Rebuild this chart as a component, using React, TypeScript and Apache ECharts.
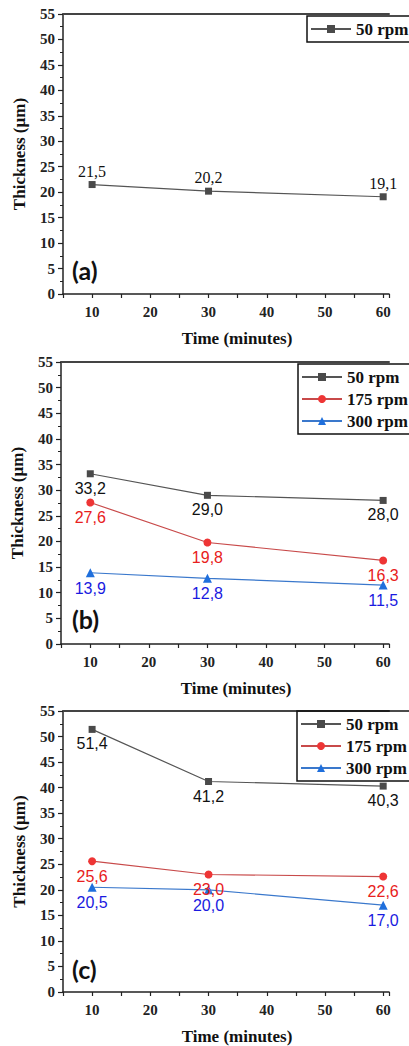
import React, { useEffect, useRef } from "react";
import * as echarts from "echarts";

const times = [10, 30, 60];
const a50 = [21.5, 20.2, 19.1];
const b50 = [33.2, 29.0, 28.0];
const b175 = [27.6, 19.8, 16.3];
const b300 = [13.9, 12.8, 11.5];
const c50 = [51.4, 41.2, 40.3];
const c175 = [25.6, 23.0, 22.6];
const c300 = [20.5, 20.0, 17.0];
const panelNames = ["(a)", "(b)", "(c)"];
const seriesNames = ["50 rpm", "175 rpm", "300 rpm"];

const GRAY = "#4a4a4a";
const RED = "#ee3535";
const BLUE = "#1f6fdc";
const SERIF = "Liberation Serif";
const SANS = "Liberation Sans";

const styles: Record<string, any> = {
  "50 rpm": { line: "#555555", marker: GRAY, label: "#111111", symbol: "rect", size: 7 },
  "175 rpm": { line: "#c84a4a", marker: RED, label: "#e82020", symbol: "circle", size: 8 },
  "300 rpm": { line: "#3a78cc", marker: BLUE, label: "#1a1ae0", symbol: "triangle", size: 9 },
};

const grids = [
  { left: 63, top: 14, height: 280, right: 20 },
  { left: 61, top: 362, height: 282, right: 20 },
  { left: 63, top: 711, height: 283, right: 20 },
];
const legendPos = [
  { left: 307, top: 16 },
  { left: 298, top: 364 },
  { left: 297, top: 711 },
];
const panelLabelY = [272, 621, 971];
const X_MIN = 5;
const X_MAX = 61;

const fmt = (v: number) => v.toFixed(1).replace(".", ",");

function mkSeries(name: string, vals: number[], gi: number, labelPos: string, labelFont: string) {
  const s = styles[name];
  return {
    type: "line",
    name,
    xAxisIndex: gi,
    yAxisIndex: gi,
    data: times.map((t, i) => [t, vals[i]]),
    symbol: s.symbol,
    symbolSize: s.size,
    lineStyle: { color: s.line, width: 1.2 },
    itemStyle: { color: s.marker },
    label: {
      show: true,
      position: labelPos,
      distance: labelPos === "top" ? 2 : 3,
      color: s.label,
      fontFamily: labelFont,
      fontSize: 16,
      formatter: (p: any) => fmt(p.value[1]),
    },
    z: 3,
  };
}

export default function App() {
  const ref = useRef<HTMLDivElement>(null);
  useEffect(() => {
    if (!ref.current) return;
    const chart = echarts.init(ref.current, null, { renderer: "svg" });
    const xAxes: any[] = grids.map((_, gi) => ({
      type: "value",
      gridIndex: gi,
      position: "bottom",
      min: X_MIN,
      max: X_MAX,
      interval: 5,
      name: "Time (minutes)",
      nameLocation: "middle",
      nameGap: 36,
      nameTextStyle: { fontFamily: SERIF, fontSize: 17, fontWeight: "bold", color: "#111", padding: [0, 0, 0, 22] },
      axisLine: { show: true, lineStyle: { color: "#222", width: 1.5 } },
      axisTick: { show: true, inside: false, length: 4, lineStyle: { color: "#222", width: 1.2 } },
      axisLabel: {
        margin: 10,
        fontFamily: SERIF,
        fontSize: 15,
        fontWeight: "bold",
        color: "#222",
        formatter: (v: number) => (v % 10 === 0 ? String(v) : ""),
      },
      splitLine: { show: false },
    }));
    grids.forEach((_, gi) => {
      xAxes.push({
        type: "value",
        gridIndex: gi,
        position: "top",
        min: X_MIN,
        max: X_MAX,
        interval: 5,
        axisLine: { show: true, onZero: false, lineStyle: { color: "#444", width: 2 } },
        axisTick: { show: false },
        axisLabel: { show: false },
        splitLine: { show: false },
      });
    });
    const yAxes = grids.map((_, gi) => ({
      type: "value",
      gridIndex: gi,
      min: 0,
      max: 55,
      interval: 5,
      name: "Thickness (µm)",
      nameLocation: "middle",
      nameGap: 35,
      nameTextStyle: { fontFamily: SERIF, fontSize: 17, fontWeight: "bold", color: "#111" },
      axisLine: { show: true, lineStyle: { color: "#222", width: 1.5 } },
      axisTick: { show: true, inside: false, length: 5, lineStyle: { color: "#222", width: 1.2 } },
      minorTick: { show: true, splitNumber: 2, length: 3, lineStyle: { color: "#222", width: 1 } },
      axisLabel: { margin: 8, fontFamily: SERIF, fontSize: 15, fontWeight: "bold", color: "#222" },
      splitLine: { show: false },
    }));
    const series = [
      mkSeries("50 rpm", a50, 0, "top", SERIF),
      mkSeries("50 rpm", b50, 1, "bottom", SANS),
      mkSeries("175 rpm", b175, 1, "bottom", SANS),
      mkSeries("300 rpm", b300, 1, "bottom", SANS),
      mkSeries("50 rpm", c50, 2, "bottom", SANS),
      mkSeries("175 rpm", c175, 2, "bottom", SANS),
      mkSeries("300 rpm", c300, 2, "bottom", SANS),
    ];
    const legends = legendPos.map((p, gi) => ({
      left: p.left,
      top: p.top,
      orient: "vertical",
      data: gi === 0 ? [seriesNames[0]] : seriesNames,
      selectedMode: false,
      borderColor: "#111",
      borderWidth: 1.5,
      borderRadius: 0,
      padding: [3, 6, 3, 3],
      itemGap: 2,
      itemWidth: 40,
      itemHeight: 10,
      textStyle: { fontFamily: SERIF, fontSize: 17, fontWeight: "bold", color: "#111", lineHeight: 20 },
    }));
    const graphics = panelNames.map((t, i) => ({
      type: "text",
      left: 72,
      top: panelLabelY[i] - 15,
      style: { text: t, fontFamily: "Lato", fontSize: 25, fontWeight: "bold", fill: "#111" },
    }));
    chart.setOption({
      animation: false,
      backgroundColor: "#ffffff",
      grid: grids.map((g) => ({ ...g, show: false })),
      xAxis: xAxes,
      yAxis: yAxes,
      legend: legends,
      series,
      graphic: graphics,
    });
    return () => chart.dispose();
  }, []);
  return (
    <div
      ref={ref}
      style={{ position: "fixed", left: 0, top: 0, width: 409, height: 1046, background: "#fff" }}
    />
  );
}
